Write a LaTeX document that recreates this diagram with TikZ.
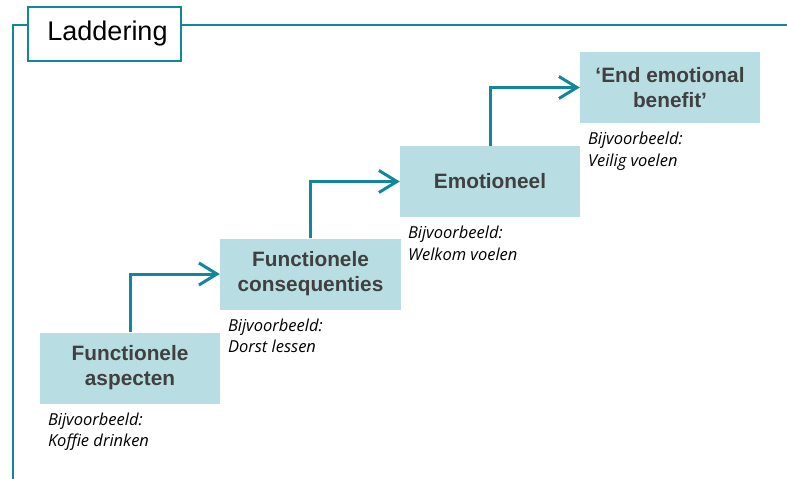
\documentclass[tikz,border=0pt]{standalone}
\usepackage{fontspec}
\setmainfont{Liberation Sans}
\newfontfamily\exfont{Open Sans}
\usetikzlibrary{arrows.meta,calc}
\definecolor{teal1}{HTML}{12879A}
\definecolor{boxfill}{HTML}{B8DDE2}
\definecolor{txtgray}{HTML}{404040}
\tikzset{
  stepbox/.style={fill=boxfill, draw=none, minimum width=180pt, minimum height=71pt, inner sep=2pt,
    text=txtgray, align=center, font=\bfseries\fontsize{20.8}{25}\selectfont},
  exlabel/.style={anchor=north west, align=left, inner sep=0pt,
    font=\exfont\itshape\fontsize{16.5}{21.5}\selectfont},
  conn/.style={draw=teal1, line width=3pt, -{Straight Barb[length=18pt,width=22pt,line width=3pt]}},
  frame/.style={draw=teal1, line width=2pt}
}
\begin{document}
\begin{tikzpicture}[x=1pt,y=1pt]
\useasboundingbox (0,0) rectangle (787,-479);
% frame
\node[frame, fill=white, minimum width=153pt, minimum height=54pt, inner sep=0pt,
  font=\fontsize{27}{30}\selectfont] (title) at (104.5,-34) {\hspace{6pt}Laddering};
\coordinate (fcorner) at (12.5,-25);
\coordinate (fbottom) at (12.5,-479);
\coordinate (fright) at (787,-25);
\draw[frame] (fbottom) -- (fcorner) -- (title.west |- fcorner);
\draw[frame] (title.east |- fcorner) -- (fright);
% boxes
\node[stepbox] (b1) at (130,-368) {Functionele\\aspecten};
\node[stepbox, minimum width=181pt] (b2) at (310.5,-274) {Functionele\\consequenties};
\node[stepbox] (b3) at (490,-181.5) {Emotioneel};
\node[stepbox] (b4) at (670,-87.5) {‘End emotional\\benefit’};
% connectors
\draw[conn] (b1.north) |- (b2.west);
\draw[conn] (b2.north) |- (b3.west);
\draw[conn] (b3.north) |- (b4.west);
% examples
\node[exlabel] (e1) at ($(b1.south west)+(8,-9)$) {Bijvoorbeeld:\\Koffie drinken};
\node[exlabel] (e2) at ($(b2.south west)+(8,-9)$) {Bijvoorbeeld:\\Dorst lessen};
\node[exlabel] (e3) at ($(b3.south west)+(8,-9)$) {Bijvoorbeeld:\\Welkom voelen};
\node[exlabel] (e4) at ($(b4.south west)+(8,-9)$) {Bijvoorbeeld:\\Veilig voelen};
\end{tikzpicture}
\end{document}
